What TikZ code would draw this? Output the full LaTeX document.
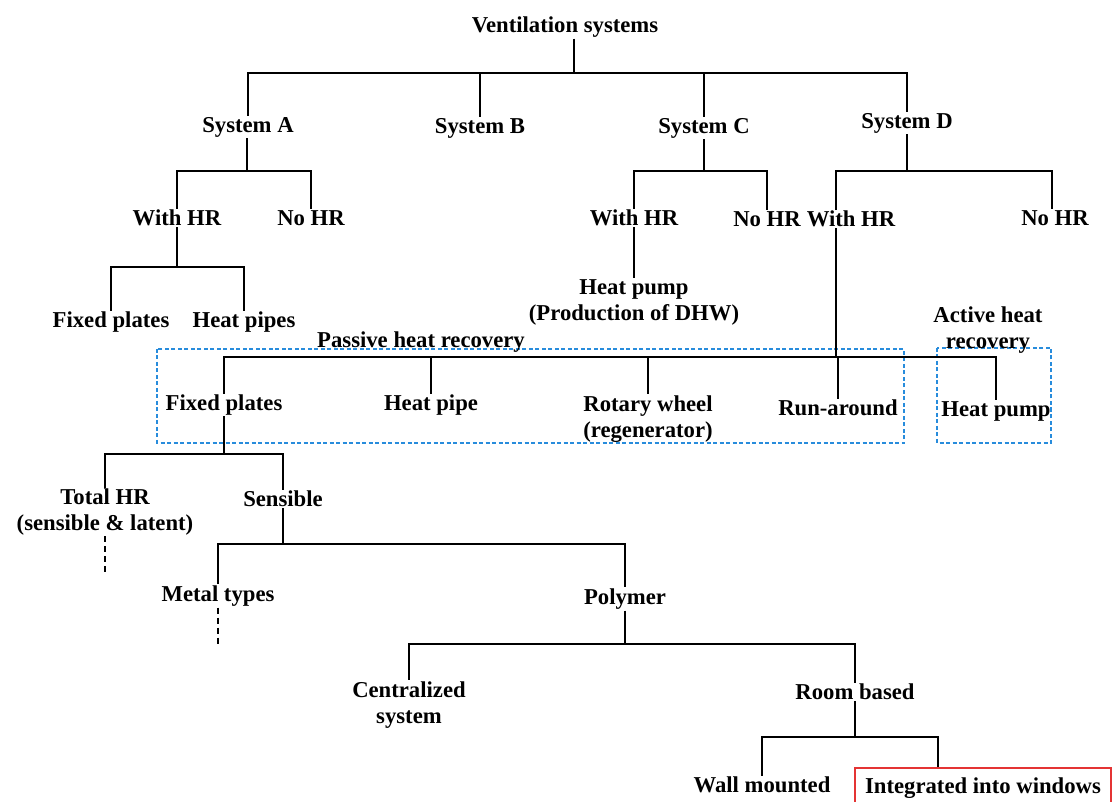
\documentclass[tikz,border=0pt]{standalone}
\usepackage{fontspec}
\setmainfont{Liberation Serif}
\usetikzlibrary{calc}
\definecolor{boxblue}{RGB}{40,140,220}
\definecolor{boxred}{RGB}{228,52,52}

\begin{document}
\begin{tikzpicture}[x=1pt, y=-1pt,
  lbl/.style={font=\fontsize{22.7}{26}\selectfont\bfseries, inner sep=1pt, align=center, yshift=-2pt},
  link/.style={line width=2.7pt},
  open/.style={line width=2.7pt, dash pattern=on 6pt off 4pt},
  group/.style={boxblue, line width=1.4pt, dash pattern=on 4pt off 2.5pt}]

  \useasboundingbox[fill=white] (0,0) rectangle (1112,802);

  %--- Level 0 and 1: ventilation systems ---
  \node[lbl] (root) at (565,25) {Ventilation systems};
  \node[lbl] (sysA) at (248,125) {System A};
  \node[lbl] (sysB) at (480,126) {System B};
  \node[lbl] (sysC) at (704,126) {System C};
  \node[lbl] (sysD) at (907,121) {System D};
  \coordinate (rootj) at (574,73);
  \draw[link] (root.south -| rootj) -- (rootj);
  \foreach \c in {sysA,sysB,sysC,sysD}
    \draw[link] (rootj) -| (\c.north);

  %--- System A ---
  \node[lbl] (withA) at (177,216) {With HR};
  \node[lbl] (noA) at (311,216) {No HR};
  \coordinate (sysAj) at (247,171);
  \draw[link] (sysA.south -| sysAj) -- (sysAj);
  \draw[link] (sysAj) -| (withA.north);
  \draw[link] (sysAj) -| (noA.north);

  \node[lbl] (fixedA) at (111,320) {Fixed plates};
  \node[lbl] (pipesA) at (244,320) {Heat pipes};
  \coordinate (withAj) at (177,267);
  \draw[link] (withA.south) -- (withAj);
  \draw[link] (withAj) -| (fixedA.north);
  \draw[link] (withAj) -| (pipesA.north);

  %--- System C ---
  \node[lbl] (withC) at (634,216) {With HR};
  \node[lbl] (noC) at (767,217) {No HR};
  \coordinate (sysCj) at (704,171);
  \draw[link] (sysC.south) -- (sysCj);
  \draw[link] (sysCj) -| (withC.north);
  \draw[link] (sysCj) -| (noC.north);

  \node[lbl] (hpC) at (634,300) {Heat pump\\(Production of DHW)};
  \draw[link] (withC.south) -- (hpC.north);

  %--- System D ---
  \node[lbl] (withD) at (851,217) {With HR};
  \node[lbl] (noD) at (1055,216) {No HR};
  \coordinate (sysDj) at (907,171);
  \draw[link] (sysD.south) -- (sysDj);
  \draw[link] (sysDj) -| ([xshift=-15pt]withD.north);
  \draw[link] (sysDj) -| ([xshift=-3pt]noD.north);

  %--- Heat recovery groups ---
  \draw[group] (157,349) rectangle (904,443);
  \draw[group] (937,348) rectangle (1051,443);
  \node[lbl] (passive) at (421,340) {Passive heat recovery};
  \node[lbl] (active) at (988,328) {Active heat\\recovery};

  \node[lbl] (fixedP) at (224,403) {Fixed plates};
  \node[lbl] (pipeP) at (431,403) {Heat pipe};
  \node[lbl] (rotP) at (648,417) {Rotary wheel\\(regenerator)};
  \node[lbl] (runP) at (838,406) {Run-around};
  \node[lbl] (hpP) at (996,409) {Heat pump};
  \coordinate (withDj) at (836,357);
  \draw[link] ([xshift=-15pt]withD.south) -- (withDj);
  \foreach \c in {fixedP,pipeP,rotP,runP,hpP}
    \draw[link] (withDj) -| (\c.north);

  %--- Fixed plates ---
  \node[lbl] (total) at (105,510) {Total HR\\(sensible \& latent)};
  \node[lbl] (sensible) at (283,497) {Sensible};
  \coordinate (fixedPj) at (224,454);
  \draw[link] (fixedP.south) -- (fixedPj);
  \draw[link] (fixedPj) -| (total.north);
  \draw[link] (fixedPj) -| (sensible.north);
  \coordinate (totalEnd) at (105,575);
  \draw[open] (total.south) -- (totalEnd);

  %--- Sensible ---
  \node[lbl] (metal) at (218,594) {Metal types};
  \node[lbl] (polymer) at (625,597) {Polymer};
  \coordinate (sensiblej) at (283,544);
  \draw[link] (sensible.south) -- (sensiblej);
  \draw[link] (sensiblej) -| (metal.north);
  \draw[link] (sensiblej) -| (polymer.north);
  \coordinate (metalEnd) at (218,646);
  \draw[open] (metal.south) -- (metalEnd);

  %--- Polymer ---
  \node[lbl] (central) at (409,703) {Centralized\\system};
  \node[lbl] (room) at (855,690) {Room based};
  \coordinate (polymerj) at (625,644);
  \draw[link] (polymer.south) -- (polymerj);
  \draw[link] (polymerj) -| (central.north);
  \draw[link] (polymerj) -| (room.north);

  %--- Room based ---
  \node[lbl] (wall) at (762,783) {Wall mounted};
  \node[lbl, draw=boxred, line width=1.3pt, minimum width=256pt, minimum height=40pt, yshift=2pt]
    (integ) at (983,788) {Integrated into windows};
  \coordinate (roomj) at (855,737);
  \draw[link] (room.south) -- (roomj);
  \draw[link] (roomj) -| (wall.north);
  \draw[link] (roomj) -| ([xshift=-45pt]integ.north);

\end{tikzpicture}
\end{document}
